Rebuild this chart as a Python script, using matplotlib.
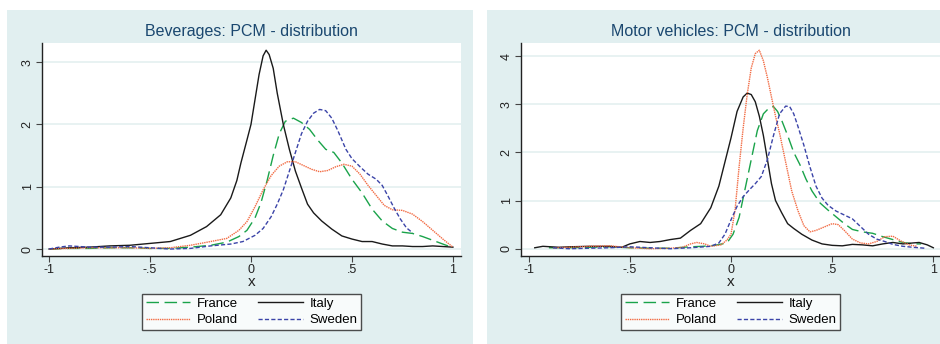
import matplotlib.pyplot as plt
from matplotlib.patches import Rectangle

plt.rcParams['font.family'] = ['Liberation Sans', 'DejaVu Sans']

# ---- Beverages ----
bev_italy_x = [-1, -0.9, -0.8, -0.7, -0.6, -0.5, -0.4, -0.3, -0.22, -0.15, -0.1, -0.07, -0.05, -0.02, 0, 0.02,
               0.04, 0.06, 0.075, 0.09, 0.11, 0.13, 0.16, 0.19, 0.22, 0.25, 0.28, 0.31, 0.35, 0.4, 0.45, 0.5,
               0.55, 0.6, 0.65, 0.7, 0.75, 0.8, 0.85, 0.9, 0.95, 1.0]
bev_italy_y = [0.0, 0.02, 0.03, 0.05, 0.06, 0.09, 0.12, 0.22, 0.36, 0.55, 0.82, 1.1, 1.38, 1.75, 2.0, 2.4,
               2.8, 3.1, 3.19, 3.12, 2.9, 2.5, 2.0, 1.6, 1.25, 0.98, 0.72, 0.58, 0.45, 0.32, 0.21, 0.16,
               0.12, 0.12, 0.08, 0.05, 0.05, 0.04, 0.04, 0.05, 0.04, 0.03]

bev_france_x = [-1, -0.9, -0.8, -0.7, -0.6, -0.5, -0.4, -0.3, -0.2, -0.12, -0.06, -0.02, 0.02, 0.05, 0.08,
                0.11, 0.14, 0.17, 0.21, 0.25, 0.29, 0.33, 0.37, 0.41, 0.45, 0.5, 0.55, 0.6, 0.65, 0.7, 0.75,
                0.8, 0.85, 0.9, 0.95, 1.0]
bev_france_y = [0.0, 0.01, 0.01, 0.02, 0.02, 0.01, 0.01, 0.03, 0.06, 0.11, 0.2, 0.3, 0.5, 0.75, 1.1,
                1.5, 1.85, 2.05, 2.1, 2.03, 1.92, 1.75, 1.6, 1.55, 1.38, 1.12, 0.9, 0.64, 0.45, 0.33, 0.27,
                0.25, 0.2, 0.14, 0.08, 0.02]

bev_poland_x = [-1, -0.9, -0.8, -0.7, -0.6, -0.5, -0.4, -0.3, -0.2, -0.12, -0.06, -0.02, 0.02, 0.06, 0.1,
                0.14, 0.18, 0.22, 0.26, 0.3, 0.34, 0.38, 0.42, 0.46, 0.5, 0.54, 0.58, 0.62, 0.66, 0.7,
                0.75, 0.8, 0.85, 0.9, 0.95, 1.0]
bev_poland_y = [0, 0.01, 0.02, 0.02, 0.02, 0.01, 0.02, 0.06, 0.12, 0.17, 0.3, 0.44, 0.68, 0.95, 1.18,
                1.33, 1.4, 1.4, 1.34, 1.28, 1.24, 1.26, 1.32, 1.36, 1.33, 1.2, 1.02, 0.86, 0.7, 0.63,
                0.62, 0.56, 0.44, 0.3, 0.16, 0.03]

bev_sweden_x = [-1, -0.95, -0.9, -0.85, -0.8, -0.7, -0.6, -0.5, -0.4, -0.3, -0.2, -0.1, -0.04, 0.02, 0.06,
                0.1, 0.13, 0.16, 0.19, 0.22, 0.25, 0.28, 0.31, 0.34, 0.37, 0.4, 0.43, 0.47, 0.5, 0.54, 0.58,
                0.62, 0.65, 0.68, 0.71, 0.74, 0.77, 0.8]
bev_sweden_y = [0, 0.03, 0.05, 0.04, 0.03, 0.03, 0.04, 0.02, 0.0, 0.01, 0.05, 0.08, 0.12, 0.22, 0.33,
                0.52, 0.72, 0.95, 1.25, 1.55, 1.85, 2.05, 2.18, 2.24, 2.22, 2.1, 1.9, 1.6, 1.45, 1.32, 1.2,
                1.12, 1.02, 0.84, 0.65, 0.48, 0.34, 0.26]

# ---- Motor vehicles ----
mot_italy_x = [-0.97, -0.93, -0.85, -0.8, -0.7, -0.6, -0.54, -0.5, -0.45, -0.4, -0.35, -0.3, -0.25, -0.2,
               -0.15, -0.1, -0.06, -0.03, 0.0, 0.03, 0.06, 0.08, 0.1, 0.12, 0.14, 0.16, 0.18, 0.2, 0.22, 0.25,
               0.28, 0.31, 0.35, 0.4, 0.45, 0.5, 0.55, 0.6, 0.65, 0.7, 0.75, 0.8, 0.85, 0.9, 0.93, 0.97, 1.0]
mot_italy_y = [0.02, 0.05, 0.03, 0.04, 0.05, 0.05, 0.03, 0.1, 0.15, 0.13, 0.15, 0.19, 0.22, 0.38,
               0.52, 0.85, 1.3, 1.8, 2.3, 2.85, 3.15, 3.23, 3.2, 3.05, 2.75, 2.35, 1.85, 1.35, 1.0, 0.75,
               0.52, 0.42, 0.3, 0.18, 0.1, 0.07, 0.06, 0.09, 0.08, 0.06, 0.1, 0.13, 0.1, 0.12, 0.13, 0.08, 0.02]

mot_france_x = [-0.9, -0.8, -0.7, -0.6, -0.5, -0.4, -0.3, -0.2, -0.14, -0.08, -0.02, 0.01, 0.04, 0.07, 0.1,
                0.13, 0.16, 0.19, 0.21, 0.23, 0.25, 0.28, 0.31, 0.34, 0.37, 0.4, 0.44, 0.48, 0.52, 0.56,
                0.6, 0.65, 0.7, 0.75, 0.8, 0.85, 0.9, 0.94]
mot_france_y = [0.02, 0.02, 0.03, 0.04, 0.02, 0.01, 0.01, 0.04, 0.05, 0.07, 0.12, 0.3, 0.65, 1.25, 1.85,
                2.45, 2.8, 2.93, 2.95, 2.85, 2.67, 2.35, 2.0, 1.75, 1.45, 1.2, 0.95, 0.8, 0.66, 0.52,
                0.4, 0.35, 0.32, 0.25, 0.19, 0.13, 0.1, 0.1]

mot_poland_x = [-0.88, -0.8, -0.7, -0.6, -0.5, -0.4, -0.3, -0.24, -0.2, -0.17, -0.13, -0.1, -0.05, -0.02,
                0.0, 0.02, 0.04, 0.06, 0.08, 0.1, 0.12, 0.14, 0.16, 0.18, 0.2, 0.22, 0.24, 0.27, 0.3, 0.33,
                0.36, 0.39, 0.42, 0.46, 0.5, 0.53, 0.56, 0.6, 0.64, 0.68, 0.72, 0.76, 0.8, 0.84, 0.88, 0.92]
mot_poland_y = [0.02, 0.03, 0.05, 0.06, 0.02, 0.0, 0.01, 0.03, 0.1, 0.13, 0.1, 0.05, 0.08, 0.18,
                0.3, 0.8, 1.7, 2.5, 3.2, 3.75, 4.05, 4.12, 3.9, 3.55, 3.15, 2.75, 2.4, 1.8, 1.2, 0.8,
                0.48, 0.35, 0.38, 0.45, 0.52, 0.5, 0.38, 0.2, 0.12, 0.1, 0.15, 0.25, 0.26, 0.16, 0.08, 0.05]

mot_sweden_x = [-0.88, -0.8, -0.7, -0.6, -0.5, -0.4, -0.3, -0.2, -0.1, -0.06, -0.03, 0.0, 0.03, 0.06, 0.09,
                0.12, 0.15, 0.18, 0.21, 0.24, 0.27, 0.29, 0.31, 0.33, 0.36, 0.39, 0.42, 0.45, 0.48, 0.52,
                0.56, 0.6, 0.64, 0.68, 0.72, 0.76, 0.8, 0.85, 0.9, 0.96]
mot_sweden_y = [0.02, 0.0, 0.01, 0.02, 0.04, 0.02, 0.0, 0.02, 0.05, 0.12, 0.3, 0.6, 0.88, 1.08, 1.22,
                1.35, 1.5, 1.85, 2.35, 2.8, 2.96, 2.95, 2.8, 2.55, 2.15, 1.7, 1.3, 1.05, 0.9, 0.78,
                0.7, 0.62, 0.46, 0.3, 0.2, 0.15, 0.09, 0.05, 0.03, 0.01]

x_ticks = [-1, -0.5, 0, 0.5, 1]
x_ticklabels = ['-1', '-.5', '0', '.5', '1']
legend_order = ['France', 'Poland', 'Italy', 'Sweden']

panel_bg = '#e1eff0'
grid_c = '#e4f0f0'
title_c = '#1a476f'

styles = {
    'France': dict(color='#1aa34a', dashes=(9, 4)),
    'Italy': dict(color='#1a1a1a', linestyle='-'),
    'Poland': dict(color='#f26b43', dashes=(1, 0.6)),
    'Sweden': dict(color='#3b44a8', dashes=(3, 1.6)),
}

fig = plt.figure(figsize=(9.4, 3.44), dpi=100)
fig.patch.set_facecolor('white')
fig.add_artist(Rectangle((7 / 940, 0), 466 / 940, 334 / 344, transform=fig.transFigure,
                         facecolor=panel_bg, edgecolor='none', zorder=-10))
fig.add_artist(Rectangle((487 / 940, 0), 460 / 940, 334 / 344, transform=fig.transFigure,
                         facecolor=panel_bg, edgecolor='none', zorder=-10))

panels = [
    ('Beverages: PCM - distribution', 42, (-1.035, 1.04), (-0.112, 3.306), [0, 1, 2, 3],
     {'France': (bev_france_x, bev_france_y), 'Italy': (bev_italy_x, bev_italy_y),
      'Poland': (bev_poland_x, bev_poland_y), 'Sweden': (bev_sweden_x, bev_sweden_y)}),
    ('Motor vehicles: PCM - distribution', 521, (-1.038, 1.033), (-0.151, 4.27), [0, 1, 2, 3, 4],
     {'France': (mot_france_x, mot_france_y), 'Italy': (mot_italy_x, mot_italy_y),
      'Poland': (mot_poland_x, mot_poland_y), 'Sweden': (mot_sweden_x, mot_sweden_y)}),
]

for title, left_px, xlim, ylim, yticks, series in panels:
    ax = fig.add_axes([left_px / 940, 88 / 344, 419 / 940, 213 / 344])
    ax.set_facecolor('white')
    lines = {}
    for name in ['France', 'Italy', 'Poland', 'Sweden']:
        xs, ys = series[name]
        lines[name], = ax.plot(xs, ys, lw=1.0, label=name, **styles[name])
    ax.set_xlim(*xlim)
    ax.set_ylim(*ylim)
    ax.set_yticks(yticks)
    ax.set_yticklabels([str(t) for t in yticks], rotation=90, va='center')
    ax.set_xticks(x_ticks)
    ax.set_xticklabels(x_ticklabels)
    ax.grid(axis='y', color=grid_c, lw=1.2)
    ax.set_axisbelow(True)
    for s in ['top', 'right']:
        ax.spines[s].set_visible(False)
    for s in ['left', 'bottom']:
        ax.spines[s].set_color('#222222')
        ax.spines[s].set_linewidth(1.0)
    ax.tick_params(length=4, width=0.8, color='#444444', labelsize=9, labelcolor='#222222', pad=2)
    ax.set_xlabel('x', fontsize=11, labelpad=-1, color='#222222')
    ax.set_title(title, fontsize=11.5, color=title_c, pad=5)
    leg = ax.legend([lines[n] for n in legend_order], legend_order, ncol=2, loc='upper center',
                    bbox_to_anchor=(0.5, -0.178), fontsize=9.5, frameon=True, fancybox=False,
                    edgecolor='#222222', handlelength=3.4, handletextpad=0.5, columnspacing=1.5,
                    labelspacing=0.3, borderpad=0.3, borderaxespad=0)
    leg.get_frame().set_linewidth(1.0)

fig.savefig('out.png', dpi=100, facecolor='white')
